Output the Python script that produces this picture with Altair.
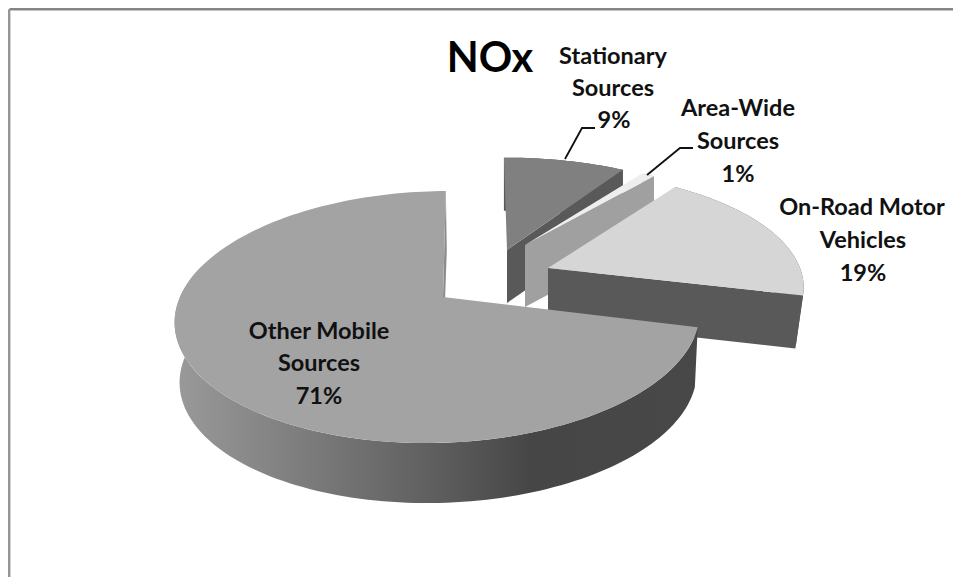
import math
import altair as alt

# ---- values
categories = ["Other Mobile Sources", "Stationary Sources", "Area-Wide Sources", "On-Road Motor Vehicles"]
shares = [71, 9, 1, 19]
title_text = "NOx"

W, H = 945, 569
K = 0.159
START = 103.7  # clockwise from 12 o'clock, where the first slice begins


def bounds():
    a = START
    out = []
    for s in shares:
        out.append((a, a + 3.6 * s))
        a += 3.6 * s
    return out


B = dict(zip(categories, bounds()))

# per-slice projection and style
style = {
    "Other Mobile Sources": dict(ax=439, ay=297, s=259, st=122.8, sh=0.043, px=443, py=297, d=60, f=0.985, bx=1,
                                 face="#a3a3a3", wall="#8c8c8c"),
    "Stationary Sources": dict(ax=507, ay=250, s=251, st=107, sh=-0.002, px=507, py=250, d=53, f=1.0, bx=0,
                               face="#808080", wall="#595959"),
    "Area-Wide Sources": dict(ax=525, ay=245, s=252, st=95, sh=0.0, px=525, py=245, d=62, f=1.0, bx=0,
                              face="#eeeeee", wall="#a0a0a0"),
    "On-Road Motor Vehicles": dict(ax=548, ay=268, s=252, st=112, sh=-0.01, px=548, py=268, d=53, f=0.97, bx=0,
                                   face="#d6d6d6", wall="#595959"),
}


def proj(c, th, lower=False):
    st = style[c]
    x, y = math.sin(math.radians(th)), math.cos(math.radians(th))
    q = 1 + K * y
    f = st["f"] if lower else 1.0
    X = st["ax"] + f * st["s"] * (x + st["sh"] * y) / q + (st["bx"] if lower else 0)
    Y = st["ay"] - st["st"] * y / q + (st["d"] if lower else 0)
    return X, Y


def arc(c, a, b, lower=False):
    n = max(2, int(abs(b - a) / 1.5))
    return [proj(c, a + (b - a) * i / n, lower) for i in range(n + 1)]


def apex(c, lower=False):
    st = style[c]
    return (st["px"], st["py"] + (st["d"] if lower else 0))


# the page margin is 8px, so the scales read in picture pixels
xs = alt.Scale(domain=[8, 8 + W], range=[0, W], nice=False)
ys = alt.Scale(domain=[8, 8 + H], range=[0, H], nice=False)
X = alt.X("x:Q", scale=xs, axis=None)
Y = alt.Y("y:Q", scale=ys, axis=None)


def rows_of(points):
    return alt.Data(values=[{"x": p[0], "y": p[1], "i": i} for i, p in enumerate(points)])


def poly(points, fill):
    return alt.Chart(rows_of(points)).mark_line(fill=fill, stroke=None, strokeWidth=0).encode(
        x=X, y=Y, order="i:Q")


def stroke_line(points, color, width):
    return alt.Chart(rows_of(points)).mark_line(color=color, strokeWidth=width).encode(
        x=X, y=Y, order="i:Q")


def slice_layers(c, wall_fill=None, wall_range=None):
    a, b = B[c]
    st = style[c]
    out = []
    ra, rb = wall_range if wall_range else (a, b)
    out.append(poly(arc(c, ra, rb) + arc(c, rb, ra, True), wall_fill or st["wall"]))
    p = proj(c, b)
    q = proj(c, b, True)
    out.append(poly([apex(c), p, q, apex(c, True)], st["wall"]))
    out.append(poly([apex(c)] + arc(c, a, b), st["face"]))
    return out


grad = alt.Gradient(
    gradient="linear", x1=0, x2=1, y1=0, y2=0,
    stops=[
        alt.GradientStop(offset=0, color="#9a9a9a"),
        alt.GradientStop(offset=0.25, color="#7c7c7c"),
        alt.GradientStop(offset=0.5, color="#5e5e5e"),
        alt.GradientStop(offset=0.68, color="#464646"),
        alt.GradientStop(offset=1, color="#484848"),
    ],
)

layers = [
    stroke_line([(9.5, 9.2), (953, 9.2)], "#858585", 2.4),
    stroke_line([(9.2, 9.2), (9.2, 577)], "#959595", 2.4),
]
for c in ["Stationary Sources", "Area-Wide Sources", "On-Road Motor Vehicles"]:
    layers += slice_layers(c)
a0, b0 = B["Other Mobile Sources"]
layers += slice_layers("Other Mobile Sources", wall_fill=grad, wall_range=(a0, 285))

# leader lines
layers.append(stroke_line([(565, 159), (582, 128), (595, 128)], "#111111", 1.8))
layers.append(stroke_line([(647, 175), (680, 148), (693, 148)], "#111111", 1.8))

# labels
label_rows = [
    ("Stationary", 613, 57), ("Sources", 613, 89), ("9%", 614, 121),
    ("Area-Wide", 738, 109), ("Sources", 738, 142), ("1%", 738, 175),
    ("On-Road Motor", 862, 208), ("Vehicles", 863, 241), ("19%", 863, 274),
    ("Other Mobile", 319, 332), ("Sources", 319, 364), ("71%", 319, 397),
]
layers.append(alt.Chart(alt.Data(values=[{"t": t, "x": x, "y": y} for t, x, y in label_rows])).mark_text(
    font="Lato", fontWeight="bold", fontSize=23.5, color="#111111", align="center", baseline="middle",
).encode(x=X, y=Y, text="t:N"))
layers.append(alt.Chart(alt.Data(values=[{"t": title_text, "x": 490, "y": 60}])).mark_text(
    font="Lato", fontWeight="bold", fontSize=41.5, color="#000000", align="center", baseline="middle",
).encode(x=X, y=Y, text="t:N"))

chart = alt.layer(*layers).properties(
    width=W, height=H, padding=0, background="white",
    autosize=alt.AutoSizeParams(type="none"),
).configure_view(stroke=None)

chart.save("out.html", embed_options={"renderer": "svg", "actions": False})
